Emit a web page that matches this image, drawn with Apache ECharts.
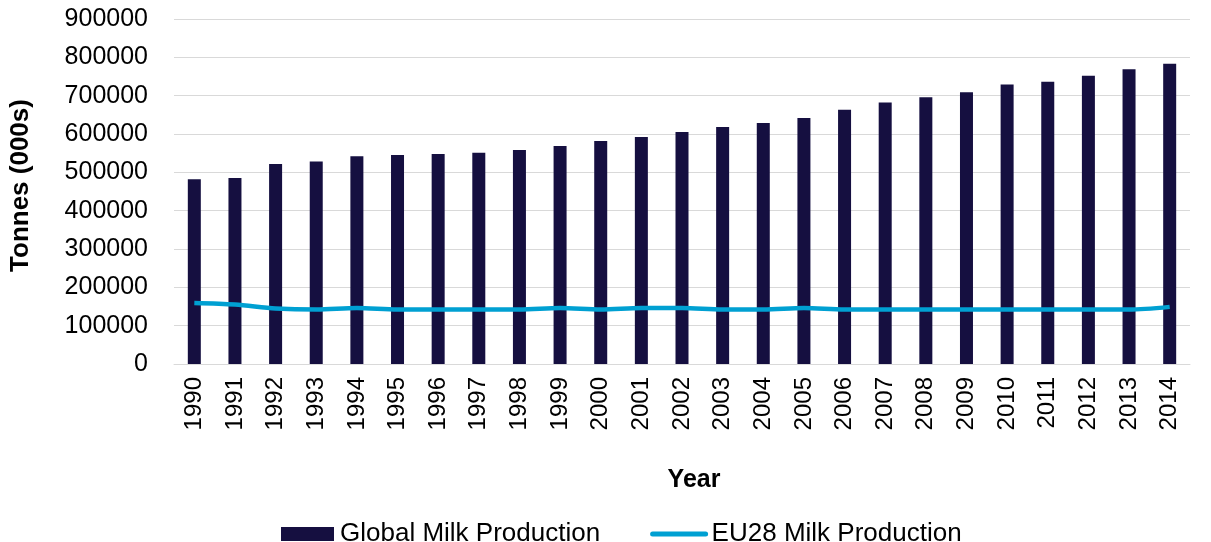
<!DOCTYPE html>
<html>
<head>
<meta charset="utf-8">
<script src="https://cdn.jsdelivr.net/npm/echarts@6/dist/echarts.min.js"></script>
<style>
  html, body { margin: 0; padding: 0; background: #fff; }
  #chartContainer { width: 1211px; height: 542px; }
</style>
</head>
<body>
<div id="chartContainer"></div>
<script>
// years on the x axis
const years = ['1990', '1991', '1992', '1993', '1994', '1995', '1996', '1997', '1998', '1999',
  '2000', '2001', '2002', '2003', '2004', '2005', '2006', '2007', '2008', '2009',
  '2010', '2011', '2012', '2013', '2014']

// tonnes (000s)
const globalMilk = [482000, 485000, 522000, 528000, 542000, 545000, 548000, 551000, 558000, 569000,
  582000, 592000, 605000, 618000, 629000, 642000, 663000, 682000, 696000, 709000,
  729000, 736000, 752000, 769000, 783000]
const eu28Milk = [159000, 155000, 145000, 142000, 146000, 142000, 142000, 142000, 142000, 146000,
  142000, 146000, 146000, 142000, 142000, 146000, 142000, 142000, 142000, 142000,
  142000, 142000, 142000, 142000, 149000]

const font = 'Liberation Sans, Arial, sans-serif'
const chart = echarts.init(document.getElementById('chartContainer'))

chart.setOption({
  animation: false,
  textStyle: { fontFamily: font, color: '#000' },
  grid: { left: 174, right: 21, top: 19, bottom: 178 },
  legend: {
    left: 276,
    top: 516,
    itemGap: 50,
    itemWidth: 53,
    itemHeight: 14,
    textStyle: { fontSize: 26, color: '#000', fontFamily: font, padding: [0, 0, 0, 1] },
    data: [
      { name: 'Global Milk Production', icon: 'rect' },
      {
        name: 'EU28 Milk Production',
        itemStyle: { opacity: 0 },
        lineStyle: { width: 5, cap: 'round', color: '#00a0d2' }
      }
    ]
  },
  xAxis: {
    type: 'category',
    data: years,
    name: 'Year',
    nameLocation: 'middle',
    nameGap: 104,
    nameTextStyle: { fontSize: 25, fontWeight: 'bold', padding: [0, 0, 0, 24] },
    axisLine: { lineStyle: { color: '#d9d9d9', width: 1 } },
    axisTick: { show: false },
    axisLabel: { rotate: 90, fontSize: 24, color: '#000', margin: 13, interval: 0 }
  },
  yAxis: {
    type: 'value',
    min: 0,
    max: 900000,
    interval: 100000,
    name: 'Tonnes (000s)',
    nameLocation: 'middle',
    nameGap: 140,
    nameTextStyle: { fontSize: 26, fontWeight: 'bold', padding: [0, 0, 0, 12] },
    axisLine: { show: false },
    axisTick: { show: false },
    axisLabel: { fontSize: 25, color: '#000', margin: 26, formatter: v => String(v) },
    splitLine: { lineStyle: { color: '#d9d9d9', width: 1 } }
  },
  series: [
    {
      name: 'Global Milk Production',
      type: 'bar',
      data: globalMilk,
      barWidth: 13,
      itemStyle: { color: '#150f40' }
    },
    {
      name: 'EU28 Milk Production',
      type: 'line',
      data: eu28Milk,
      smooth: 0.3,
      symbol: 'none',
      lineStyle: { color: '#00a0d2', width: 4.5 },
      itemStyle: { color: '#00a0d2' }
    }
  ]
})
</script>
</body>
</html>
